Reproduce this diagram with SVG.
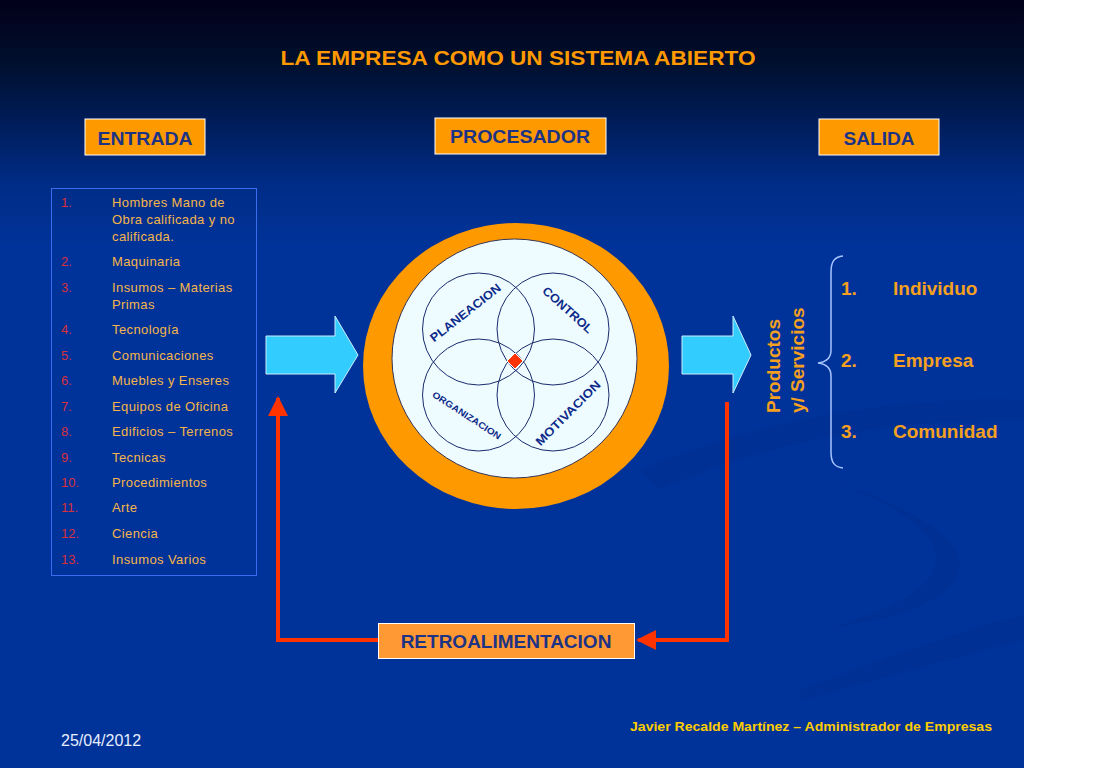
<svg xmlns="http://www.w3.org/2000/svg" width="1105" height="768" viewBox="0 0 1105 768">
<defs>
<linearGradient id="bg" x1="0" y1="0" x2="0" y2="768" gradientUnits="userSpaceOnUse">
<stop offset="0" stop-color="#03001a"/>
<stop offset="0.08" stop-color="#000f2c"/>
<stop offset="0.16" stop-color="#001d5a"/>
<stop offset="0.24" stop-color="#002c86"/>
<stop offset="0.32" stop-color="#003399"/>
<stop offset="1" stop-color="#003399"/>
</linearGradient>
<marker id="ah" viewBox="0 0 10 10" refX="9" refY="5" markerWidth="5" markerHeight="5" markerUnits="strokeWidth" orient="auto">
<path d="M0,0 L10,5 L0,10 z" fill="#ff3300"/>
</marker>
<style>
.hdr{fill:#ff9900;stroke:#ffffff;stroke-width:1}
.hdrt{font-family:"Liberation Sans",Arial,sans-serif;font-weight:bold;fill:#1c3386;text-anchor:middle}
.num{font-family:"Liberation Sans",Arial,sans-serif;font-size:13px;fill:#d9303c}
.itm{font-family:"Liberation Sans",Arial,sans-serif;font-size:13px;letter-spacing:0.4px;fill:#f5b54a}
.out{font-family:"Liberation Sans",Arial,sans-serif;font-size:19px;font-weight:bold;fill:#f5a020}
.ring{fill:none;stroke:#1a2a6c;stroke-width:1}
.lbl{font-family:"Liberation Sans",Arial,sans-serif;font-weight:bold;fill:#0d2a8a;text-anchor:middle}
.fb{fill:none;stroke:#ff3300;stroke-width:4}
.cy{fill:#33ccff;stroke:#cceeff;stroke-width:1}
</style>
</defs>
<rect x="0" y="0" width="1105" height="768" fill="#ffffff"/>
<rect x="0" y="0" width="1024" height="768" fill="url(#bg)"/>
<g id="swoosh" fill="#002a88" opacity="0.3">
<path d="M640,470 C760,420 900,395 1024,400 L1024,420 C900,418 770,440 660,490 Z"/>
<path d="M800,470 C900,500 980,540 955,580 C935,610 880,620 830,628 C890,610 930,590 935,565 C945,530 880,495 800,470 Z"/>
<path d="M800,690 C880,660 960,630 1024,615 L1024,640 C960,655 880,680 800,700 Z"/>
</g>
<text x="518" y="65" text-anchor="middle" font-family="'Liberation Sans',Arial,sans-serif" font-weight="bold" font-size="21" fill="#ff9900" textLength="475" lengthAdjust="spacingAndGlyphs">LA EMPRESA COMO UN SISTEMA ABIERTO</text>
<g id="entrada">
<rect class="hdr" x="85" y="119" width="120" height="36"/>
<text class="hdrt" x="145" y="145" font-size="19" textLength="95" lengthAdjust="spacingAndGlyphs">ENTRADA</text>
</g>
<g id="procesador">
<rect class="hdr" x="435" y="118" width="171" height="36"/>
<text class="hdrt" x="520" y="143" font-size="19" textLength="140" lengthAdjust="spacingAndGlyphs">PROCESADOR</text>
</g>
<g id="salida">
<rect class="hdr" x="819" y="119" width="120" height="36"/>
<text class="hdrt" x="879" y="145" font-size="19" textLength="71" lengthAdjust="spacingAndGlyphs">SALIDA</text>
</g>
<g id="entradas-lista">
<rect x="51.5" y="188.5" width="205" height="387" fill="none" stroke="#3a6cf0" stroke-width="1"/>
<text class="num" x="61" y="207">1.</text><text class="itm" x="112" y="207">Hombres Mano de</text>
<text class="itm" x="112" y="224">Obra calificada y no</text>
<text class="itm" x="112" y="241">calificada.</text>
<text class="num" x="61" y="266">2.</text><text class="itm" x="112" y="266">Maquinaria</text>
<text class="num" x="61" y="292">3.</text><text class="itm" x="112" y="292">Insumos – Materias</text>
<text class="itm" x="112" y="309">Primas</text>
<text class="num" x="61" y="334">4.</text><text class="itm" x="112" y="334">Tecnología</text>
<text class="num" x="61" y="360">5.</text><text class="itm" x="112" y="360">Comunicaciones</text>
<text class="num" x="61" y="385">6.</text><text class="itm" x="112" y="385">Muebles y Enseres</text>
<text class="num" x="61" y="411">7.</text><text class="itm" x="112" y="411">Equipos de Oficina</text>
<text class="num" x="61" y="436">8.</text><text class="itm" x="112" y="436">Edificios – Terrenos</text>
<text class="num" x="61" y="462">9.</text><text class="itm" x="112" y="462">Tecnicas</text>
<text class="num" x="61" y="487">10.</text><text class="itm" x="112" y="487">Procedimientos</text>
<text class="num" x="61" y="512">11.</text><text class="itm" x="112" y="512">Arte</text>
<text class="num" x="61" y="538">12.</text><text class="itm" x="112" y="538">Ciencia</text>
<text class="num" x="61" y="564">13.</text><text class="itm" x="112" y="564">Insumos Varios</text>
</g>
<g id="flecha-entrada">
<path class="cy" d="M266,336 L335,336 L335,316 L358,355 L335,393 L335,374 L266,374 Z"/>
</g>
<g id="procesador-circulo">
<ellipse cx="516" cy="366" rx="153" ry="143" fill="#ff9900"/>
<ellipse cx="514.5" cy="358.5" rx="122.5" ry="119.5" fill="#eefcff" stroke="#333355" stroke-width="1"/>
<circle class="ring" cx="478.5" cy="329" r="56"/>
<circle class="ring" cx="553" cy="329" r="56"/>
<circle class="ring" cx="478.5" cy="395" r="56"/>
<circle class="ring" cx="553" cy="395" r="56"/>
<path d="M515,353 L523,361 L515,369 L507,361 Z" fill="#ff3300" stroke="#ffffff" stroke-width="1"/>
<text class="lbl" font-size="12" transform="translate(468,316) rotate(-38)" textLength="86" lengthAdjust="spacingAndGlyphs">PLANEACION</text>
<text class="lbl" font-size="12" transform="translate(565,313) rotate(42)" textLength="63" lengthAdjust="spacingAndGlyphs">CONTROL</text>
<text class="lbl" font-size="9" transform="translate(465,418) rotate(33)" textLength="80" lengthAdjust="spacingAndGlyphs">ORGANIZACION</text>
<text class="lbl" font-size="12" transform="translate(571,416) rotate(-45)" textLength="86" lengthAdjust="spacingAndGlyphs">MOTIVACION</text>
</g>
<g id="flecha-salida">
<path class="cy" d="M682,336 L733,336 L733,316 L751,355 L733,393 L733,374 L682,374 Z"/>
</g>
<g id="productos">
<text class="out" transform="translate(780,413) rotate(-90)">Productos</text>
<text class="out" transform="translate(804,413) rotate(-90)">y/ Servicios</text>
</g>
<g id="salidas-lista">
<path d="M843,256 C834,257 831,262 831,272 L831,350 C831,358 826,362 818,363 C826,364 831,368 831,376 L831,452 C831,462 834,467 843,468" fill="none" stroke="#a8c4ff" stroke-width="1.5"/>
<text class="out" x="841" y="295">1.</text><text class="out" x="893" y="295">Individuo</text>
<text class="out" x="841" y="367">2.</text><text class="out" x="893" y="367">Empresa</text>
<text class="out" x="841" y="438">3.</text><text class="out" x="893" y="438">Comunidad</text>
</g>
<g id="retroalimentacion">
<rect x="378.5" y="623.5" width="256" height="35" fill="#ff9933" stroke="#ffffff" stroke-width="1"/>
<text class="hdrt" x="506" y="648" font-size="19">RETROALIMENTACION</text>
</g>
<g id="conectores">
<path class="fb" d="M727,402 L727,640 L638,640" marker-end="url(#ah)"/>
<path class="fb" d="M378,640 L278,640 L278,398" marker-end="url(#ah)"/>
</g>
<text x="630" y="731" font-family="'Liberation Sans',Arial,sans-serif" font-weight="bold" font-size="12.5" fill="#ffcc00" textLength="362" lengthAdjust="spacingAndGlyphs">Javier Recalde Martínez – Administrador de Empresas</text>
<text x="61" y="746" font-family="'Liberation Sans',Arial,sans-serif" font-size="16" fill="#e8eeff">25/04/2012</text>
</svg>
